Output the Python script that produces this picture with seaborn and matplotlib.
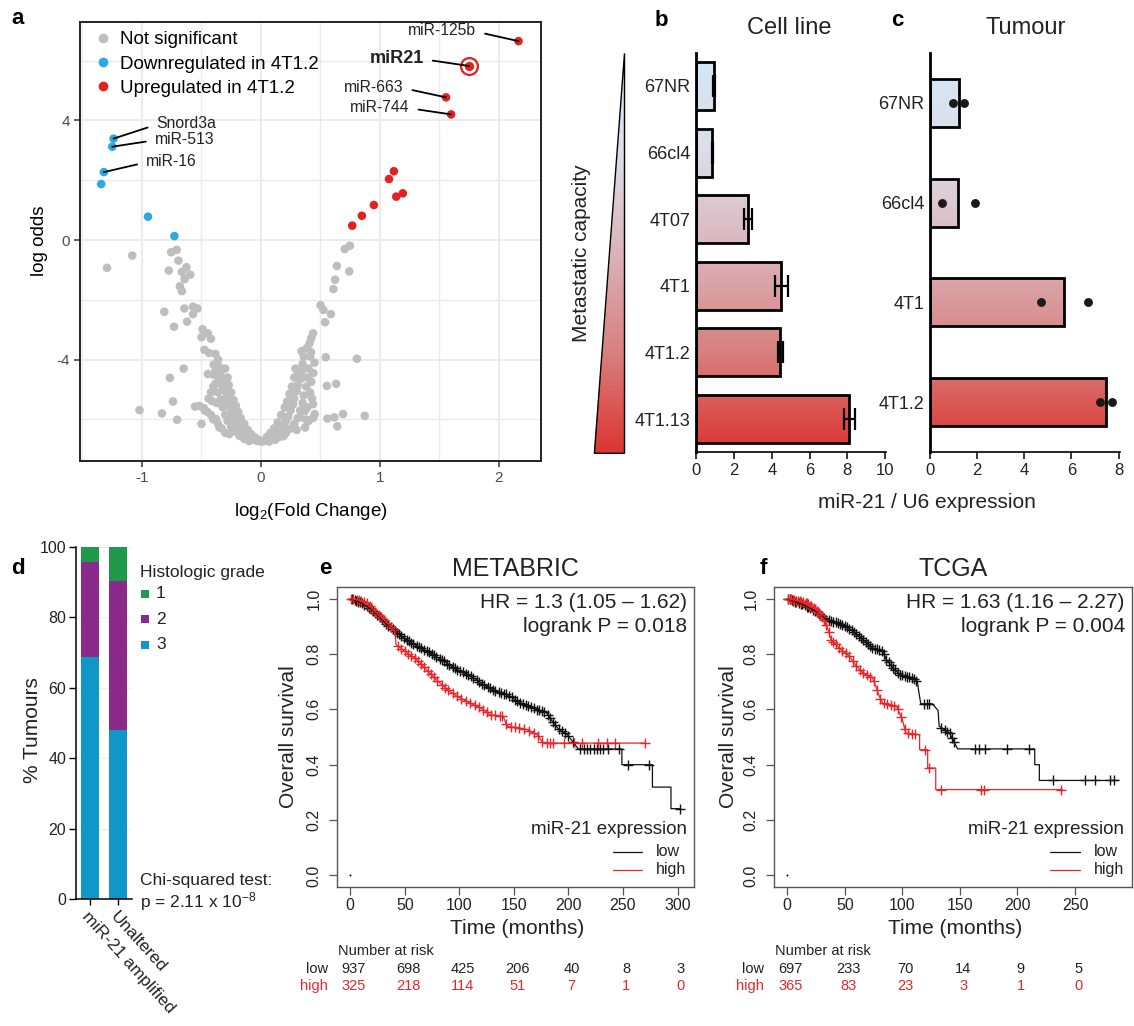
import numpy as np
import pandas as pd
import matplotlib
matplotlib.use("Agg")
import matplotlib.pyplot as plt
import seaborn as sns
from matplotlib.colors import LinearSegmentedColormap
from matplotlib.lines import Line2D
from matplotlib.patches import Polygon, Rectangle
from matplotlib.transforms import blended_transform_factory

# ======================= DATA =======================
# ---- panel a: volcano plot ----
ns_x = [-1.293, -1.081, -0.754, -0.707, 0.704, 0.748, -0.693, -0.626, -0.774, -0.664, -0.594, -0.641,
        -0.681, -0.664, 0.638, 0.742, 0.623, 0.609, -0.812, -0.730, -0.643, -0.571, -0.533, -0.571,
        -0.620, 0.501, 0.525, 0.588, 0.539, 0.438, 0.423, 0.409, -0.490, -0.446, -0.499, -0.420,
        -0.475, -0.435, -0.383, -0.649, -0.765, -0.739, -1.020, -0.832, -0.704, -0.554, -0.499, -0.412,
        -0.446, 0.545, 0.806, 0.554, 0.632, 0.423, 0.438, 0.452, 0.559, 0.617, 0.690, 0.872,
        0.641, 0.371, 0.191, -0.267, -0.348, -0.377, -0.470, 0.328, 0.371, 0.342, 0.386, 0.414,
        0.313, 0.299, 0.342, 0.414, -0.383, -0.397, -0.354, -0.310,
        -0.36, -0.35, -0.34, -0.33, -0.32, -0.30, -0.29, -0.28, -0.26, -0.25, -0.23, -0.21,
        -0.19, -0.17, -0.15, -0.12, -0.09, -0.06, -0.03, 0.00,
        -0.30, -0.28, -0.27, -0.25, -0.23, -0.21, -0.19, -0.17, -0.14, -0.11, -0.08, -0.05, -0.02,
        -0.40, -0.38, -0.36, -0.34, -0.32, -0.30, -0.28, -0.25, -0.22, -0.18, -0.14, -0.10,
        0.36, 0.35, 0.34, 0.33, 0.31, 0.30, 0.28, 0.27, 0.25, 0.23, 0.21, 0.19, 0.16, 0.13,
        0.10, 0.07, 0.04, 0.02,
        0.29, 0.28, 0.26, 0.24, 0.22, 0.20, 0.17, 0.14, 0.11, 0.08, 0.05,
        0.40, 0.39, 0.38, 0.36, 0.35, 0.33, 0.31, 0.28, 0.25, 0.21, 0.16, 0.12, 0.07,
        -0.52, -0.48, -0.45, -0.42, -0.40, -0.36, -0.33, -0.30, 0.38, 0.40, 0.44, 0.30,
        0.42, 0.44, 0.45, 0.43, 0.39, -0.42, -0.44, -0.40, -0.37]
ns_y = [-0.93, -0.52, -0.41, -0.33, -0.30, -0.19, -0.69, -0.91, -1.02, -1.07, -1.16, -1.31,
        -1.55, -1.71, -0.87, -1.05, -1.33, -1.64, -2.40, -2.90, -2.29, -2.23, -2.29, -2.48,
        -2.73, -2.18, -2.34, -2.48, -2.75, -3.12, -3.28, -3.45, -2.98, -3.12, -3.25, -3.30,
        -3.67, -3.78, -3.81, -4.30, -4.61, -5.40, -5.69, -5.80, -6.01, -5.57, -6.15, -5.38,
        -4.48, -3.92, -3.97, -4.88, -4.81, -4.74, -5.49, -5.82, -5.97, -5.93, -5.82, -5.88,
        -6.23, -6.27, -6.56, -6.49, -6.27, -5.99, -5.71, -5.93, -5.71, -3.72, -3.61, -3.89,
        -4.50, -4.99, -4.61, -5.10, -4.39, -4.17, -4.61, -4.72,
        -4.00, -4.25, -4.45, -4.70, -4.90, -5.05, -5.25, -5.45, -5.60, -5.80, -5.95, -6.10,
        -6.25, -6.35, -6.45, -6.55, -6.63, -6.68, -6.72, -6.74,
        -4.30, -4.60, -4.85, -5.10, -5.35, -5.55, -5.75, -5.95, -6.15, -6.35, -6.50, -6.60, -6.68,
        -4.50, -4.80, -5.10, -5.35, -5.60, -5.85, -6.05, -6.25, -6.40, -6.55, -6.65, -6.72,
        -3.90, -4.15, -4.40, -4.65, -4.85, -5.05, -5.30, -5.50, -5.70, -5.90, -6.05, -6.20, -6.35, -6.48,
        -6.58, -6.65, -6.71, -6.73,
        -4.30, -4.60, -4.90, -5.15, -5.40, -5.60, -5.85, -6.10, -6.30, -6.45, -6.58,
        -4.30, -4.60, -4.90, -5.20, -5.45, -5.70, -5.95, -6.15, -6.30, -6.45, -6.58, -6.68, -6.74,
        -5.55, -5.62, -5.75, -5.85, -6.00, -6.15, -6.30, -6.45, -6.00, -6.05, -5.95, -6.35,
        -3.75, -4.45, -4.10, -5.30, -5.60, -5.10, -5.30, -4.90, -5.45]
down_x = [-1.238, -1.249, -1.319, -1.342, -0.949, -0.727]
down_y = [3.39, 3.12, 2.27, 1.87, 0.78, 0.13]
up_x = [2.164, 1.748, 1.555, 1.598, 1.117, 1.076, 1.192, 1.137, 0.949, 0.848, 0.767]
up_y = [6.65, 5.82, 4.77, 4.20, 2.30, 2.04, 1.56, 1.45, 1.17, 0.81, 0.48]
group_names = ["Not significant", "Downregulated in 4T1.2", "Upregulated in 4T1.2"]
# labelled genes: (name, group, index in group)
label_names = ["miR-125b", "miR21", "miR-663", "miR-744", "Snord3a", "miR-513", "miR-16"]
label_group = ["up", "up", "up", "up", "down", "down", "down"]
label_index = [0, 1, 2, 3, 0, 1, 2]

# ---- panel b: cell lines ----
cell_lines = ["67NR", "66cl4", "4T07", "4T1", "4T1.2", "4T1.13"]
cell_mean = [0.93, 0.86, 2.75, 4.50, 4.46, 8.10]
cell_sem = [0.05, 0.05, 0.22, 0.34, 0.15, 0.28]

# ---- panel c: tumours ----
tumour_lines = ["67NR", "66cl4", "4T1", "4T1.2"]
tumour_rep1 = [1.00, 0.53, 4.71, 7.23]
tumour_rep2 = [1.45, 1.91, 6.69, 7.72]

# ---- panel d: histologic grade ----
grade_groups = ["miR-21 amplified", "Unaltered"]
grade1_pct = [4.2, 9.7]
grade2_pct = [27.0, 42.2]
grade3_pct = [68.8, 48.1]

# ---- panel e: METABRIC ----
e_low_t = [0, 10, 20, 34, 49, 64, 75, 86, 98, 110, 122, 134, 144, 156, 171, 180, 184, 190, 199, 205, 209,
           249, 249, 277, 277, 294, 294, 303]
e_low_s = [1.0, .985, .960, .906, .858, .822, .800, .773, .743, .722, .689, .665, .653, .623, .599, .587,
           .563, .533, .508, .478, .457, .457, .40, .40, .319, .319, .241, .241]
e_high_t = [0, 8, 15, 24, 34, 41, 42, 52, 61, 70, 79, 89, 98, 110, 122, 128, 140, 144, 162, 171, 177, 202, 270]
e_high_s = [1.0, .995, .984, .948, .912, .882, .834, .804, .780, .743, .707, .671, .647, .623, .599, .581,
            .575, .539, .527, .509, .478, .478, .478]
e_low_cens = [2, 4, 5, 7, 9, 11, 13, 15, 17, 19, 21, 23, 25, 27, 29, 31, 33, 35, 37, 39, 41, 43, 45, 47, 49,
              52, 54, 56, 58, 61, 63, 65, 68, 70, 72, 75, 77, 79, 82, 84, 86, 89, 91, 94, 96, 98, 101, 103,
              106, 108, 111, 113, 116, 118, 121, 123, 126, 128, 131, 133, 136, 138, 141, 143, 146, 148, 151,
              153, 156, 158, 161, 163, 166, 168, 171, 173, 176, 178, 181, 183, 186, 188, 191, 194, 197, 200,
              204, 211, 214, 217, 220, 223, 226, 229, 232, 236, 246, 255, 274, 302]
e_high_cens = [1, 3, 6, 8, 10, 13, 15, 18, 20, 23, 26, 28, 31, 34, 37, 40, 44, 47, 50, 53, 56, 59, 62, 65,
               68, 71, 74, 77, 80, 84, 87, 90, 94, 98, 102, 106, 110, 114, 118, 122, 125, 129, 133, 137,
               139, 143, 147, 151, 155, 159, 164, 168, 172, 176, 180, 183, 186, 196, 205, 212, 227, 235,
               243, 270]
e_risk_times = [0, 50, 100, 150, 200, 250, 300]
e_risk_low = [937, 698, 425, 206, 40, 8, 3]
e_risk_high = [325, 218, 114, 51, 7, 1, 0]

# ---- panel f: TCGA ----
f_low_t = [0, 14, 25, 34, 43, 51, 57, 66, 74, 83, 86, 92, 98, 109, 113, 114, 116, 126, 131, 132, 141, 144,
           148, 215, 215, 219, 219, 288]
f_low_s = [1.0, .978, .954, .924, .914, .90, .882, .852, .822, .81, .78, .749, .725, .713, .701, .671, .62,
           .62, .596, .539, .514, .49, .457, .457, .40, .40, .343, .343]
f_high_t = [0, 17, 25, 31, 35, 38, 45, 54, 60, 66, 74, 77, 80, 83, 95, 98, 100, 103, 115, 115, 122, 122,
            129, 129, 239]
f_high_s = [1.0, .984, .96, .93, .894, .852, .822, .792, .756, .731, .713, .683, .647, .622, .611, .581,
            .563, .514, .508, .454, .454, .388, .388, .310, .310]
f_low_cens = [1, 2, 4, 5, 7, 8, 10, 12, 13, 15, 17, 18, 20, 22, 24, 26, 28, 30, 32, 34, 36, 38, 40, 42, 44,
              46, 48, 50, 52, 54, 56, 58, 60, 62, 64, 66, 68, 70, 72, 74, 76, 78, 80, 82, 84, 86, 88, 90,
              92, 94, 96, 98, 100, 102, 104, 106, 108, 110, 112, 119, 121, 123, 134, 137, 139, 141, 143,
              145, 163, 167, 172, 191, 210, 231, 259, 267, 280, 284]
f_high_cens = [1, 2, 3, 5, 6, 8, 9, 11, 12, 14, 16, 17, 18, 20, 21, 23, 24, 26, 27, 29, 30, 32, 34, 36, 38,
               40, 42, 45, 48, 51, 54, 57, 60, 63, 66, 69, 72, 75, 78, 81, 84, 87, 90, 93, 96, 99, 102, 105,
               108, 111, 120, 123, 134, 168, 171, 238]
f_risk_times = [0, 50, 100, 150, 200, 250]
f_risk_low = [697, 233, 70, 14, 9, 5]
f_risk_high = [365, 83, 23, 3, 1, 0]

# ======================= STYLE =======================
sns.set_theme(style="white")
plt.rcParams["font.family"] = ["Liberation Sans", "DejaVu Sans"]
plt.rcParams["mathtext.fontset"] = "custom"
plt.rcParams["mathtext.rm"] = "Liberation Sans"
plt.rcParams["mathtext.it"] = "Liberation Sans:italic"
plt.rcParams["mathtext.bf"] = "Liberation Sans:bold"
plt.rcParams["axes.unicode_minus"] = False
plt.rcParams["text.color"] = "black"

W, H = 1134, 1026
fig = plt.figure(figsize=(W / 100, H / 100), dpi=100)
fig.patch.set_facecolor("white")


def rect(x0, y0, x1, y1):
    return [x0 / W, 1 - y1 / H, (x1 - x0) / W, (y1 - y0) / H]


def ftext(x, y, s, **kw):
    kw.setdefault("ha", "center")
    kw.setdefault("va", "center")
    return fig.text(x / W, 1 - y / H, s, **kw)


RED_KM = "#E8262A"
grad_cmap = LinearSegmentedColormap.from_list(
    "met", ["#D3E9F6", "#DDDDEA", "#DBB3B9", "#D8807F", "#DC3530"])

# ======================= PANEL a =======================
axa = fig.add_axes(rect(80, 22, 541, 461))
dfa = pd.DataFrame({
    "lfc": ns_x + down_x + up_x,
    "lod": ns_y + down_y + up_y,
    "grp": [group_names[0]] * len(ns_x) + [group_names[1]] * len(down_x) + [group_names[2]] * len(up_x),
})
pal = {group_names[0]: "#BEBEBE", group_names[1]: "#2BAAE2", group_names[2]: "#E3221F"}
sns.scatterplot(data=dfa, x="lfc", y="lod", hue="grp", palette=pal, s=38, linewidth=0,
                legend=False, ax=axa, zorder=3)
# highlight miR21
hx, hy = [up_x[1]], [up_y[1]]
sns.scatterplot(x=hx, y=hy, s=190, color="#E3221F", linewidth=0, ax=axa, zorder=4, legend=False)
sns.scatterplot(x=hx, y=hy, s=110, color="white", linewidth=0, ax=axa, zorder=5, legend=False)
sns.scatterplot(x=hx, y=hy, s=45, color="#E3221F", linewidth=0, ax=axa, zorder=6, legend=False)

axa.set_xlim(-1.52, 2.353)
axa.set_ylim(-7.39, 7.29)
axa.set_xticks([-1, 0, 1, 2])
axa.set_xticks([-1.5, -0.5, 0.5, 1.5], minor=True)
axa.set_yticks([-4, 0, 4])
axa.set_yticks([-6, -2, 2, 6], minor=True)
axa.grid(which="major", color="#EBEBEB", lw=1.5)
axa.grid(which="minor", color="#EBEBEB", lw=1.0)
axa.set_axisbelow(True)
axa.tick_params(which="major", bottom=True, left=True, length=4, width=1.1, color="#333333",
                labelcolor="#4D4D4D", labelsize=11, pad=3)
axa.tick_params(which="minor", length=0)
for sp in axa.spines.values():
    sp.set_color("#222222")
    sp.set_linewidth(1.4)
axa.set_xlabel("")
axa.set_ylabel("")
ftext(40, 241, "log odds", rotation=90, fontsize=13.5)
ftext(311, 511, r"log$_2$(Fold Change)", fontsize=13.5)

# legend
handles = [Line2D([], [], marker="o", ls="", color=pal[g], markersize=7, markeredgewidth=0) for g in group_names]
axa.legend(handles, group_names, loc="upper left", bbox_to_anchor=(0.0, 1.0), frameon=False,
           fontsize=13.5, handletextpad=0.25, labelspacing=0.38, borderaxespad=0.25, handlelength=1.4,
           borderpad=0.25)

# annotations
label_text_pos = [(1.81, 6.99, "right"), (1.37, 6.07, "right"), (1.20, 5.10, "right"),
                  (1.25, 4.43, "right"), (-0.88, 3.88, "left"), (-0.894, 3.36, "left"),
                  (-0.967, 2.62, "left")]
for name, grp, idx, (tx, ty, ha) in zip(label_names, label_group, label_index, label_text_pos):
    px = up_x[idx] if grp == "up" else down_x[idx]
    py = up_y[idx] if grp == "up" else down_y[idx]
    bold = name == "miR21"
    axa.annotate(name, xy=(px, py), xytext=(tx, ty), ha=ha, va="center",
                 fontsize=13 if bold else 11.3, fontweight="bold" if bold else "normal",
                 color="#222222",
                 arrowprops=dict(arrowstyle="-", color="black", lw=1.3,
                                 relpos=(1, 0.45) if ha == "right" else (0, 0.45),
                                 shrinkA=4, shrinkB=0), zorder=7)
ftext(18, 18, "a", fontsize=16, fontweight="bold")


# ======================= gradient helper =======================
def fill_gradient(ax, n_cat):
    y0, y1 = -0.5, n_cat - 0.5
    for p in list(ax.patches):
        x, w, y, h = p.get_x(), p.get_width(), p.get_y(), p.get_height()
        ya, yb = y, y + h
        va_, vb_ = (ya - y0) / (y1 - y0), (yb - y0) / (y1 - y0)
        grad = np.linspace(va_, vb_, 128)[:, None]
        im = ax.imshow(grad, extent=(x, x + w, yb, ya), origin="upper", cmap=grad_cmap, vmin=0, vmax=1,
                       aspect="auto", zorder=0.9, interpolation="bilinear")
        im.set_clip_path(p)
        p.set_facecolor("none")
        p.set_zorder(2)


def style_bar_axis(ax, xmax, xticks):
    ax.set_xlim(0, xmax)
    ax.set_xticks(xticks)
    ax.set_xlabel("")
    ax.set_ylabel("")
    sns.despine(ax=ax)
    ax.spines["left"].set_linewidth(2.0)
    ax.spines["left"].set_color("black")
    ax.spines["bottom"].set_linewidth(1.2)
    ax.spines["bottom"].set_color("black")
    ax.tick_params(axis="x", bottom=True, length=5, width=1.1, color="black", labelsize=12,
                   labelcolor="#222222", pad=3)
    ax.tick_params(axis="y", left=False, length=0, labelsize=13, labelcolor="#222222", pad=4)


# ======================= PANEL b =======================
axb = fig.add_axes(rect(696.2, 52.7, 886.1, 452.3))
sns.barplot(x=cell_mean, y=cell_lines, orient="h", color="white", edgecolor="black", linewidth=2,
            width=0.72, errorbar=None, ax=axb)
fill_gradient(axb, len(cell_lines))
axb.errorbar(cell_mean, np.arange(len(cell_lines)), xerr=cell_sem, fmt="none", ecolor="black",
             elinewidth=1.6, capsize=8, capthick=1.6, zorder=3)
axb.set_ylim(len(cell_lines) - 0.5, -0.5)
style_bar_axis(axb, 10.05, [0, 2, 4, 6, 8, 10])

# metastatic capacity triangle
axt = fig.add_axes(rect(594.4, 53.3, 624.5, 453.3))
axt.set_xlim(0, 1)
axt.set_ylim(0, 1)
axt.axis("off")
tri = Polygon([[0, 0], [1, 0], [1, 1]], closed=True, facecolor="none", edgecolor="black", lw=1.0,
              clip_on=False, zorder=2)
axt.add_patch(tri)
imt = axt.imshow(np.linspace(0, 1, 256)[:, None], extent=(0, 1, 0, 1), origin="upper", cmap=grad_cmap,
                 vmin=0, vmax=1, aspect="auto", zorder=1, interpolation="bilinear")
imt.set_clip_path(tri)
ftext(581.7, 253, "Metastatic capacity", rotation=90, fontsize=15, color="#222222")
ftext(789, 28, "Cell line", fontsize=17, color="#222222")
ftext(661, 20, "b", fontsize=16, fontweight="bold")

# ======================= PANEL c =======================
axc = fig.add_axes(rect(929.6, 52.7, 1119.8, 452.3))
dfc = pd.DataFrame({"line": tumour_lines * 2, "val": tumour_rep1 + tumour_rep2})
sns.barplot(data=dfc, x="val", y="line", order=tumour_lines, orient="h", color="white", edgecolor="black",
            linewidth=2, width=0.48, errorbar=None, ax=axc)
fill_gradient(axc, len(tumour_lines))
sns.stripplot(data=dfc, x="val", y="line", order=tumour_lines, orient="h", jitter=False, color="#1A1A1A",
              size=6.4, linewidth=0, ax=axc, zorder=4)
axc.set_ylim(len(tumour_lines) - 0.5, -0.5)
style_bar_axis(axc, 8.05, [0, 2, 4, 6, 8])
ftext(1025.6, 28, "Tumour", fontsize=17, color="#222222")
ftext(897, 20, "c", fontsize=16, fontweight="bold")
ftext(926.7, 503, "miR-21 / U6 expression", fontsize=15, color="#222222")

# ======================= PANEL d =======================
axd = fig.add_axes(rect(76, 546.7, 132.3, 899.3))
g3 = np.array(grade3_pct)
g2 = g3 + np.array(grade2_pct)
g1 = g2 + np.array(grade1_pct)
COL_G1, COL_G2, COL_G3 = "#1F9A4A", "#8C2A8C", "#1196C8"
sns.barplot(x=grade_groups, y=g1, color=COL_G1, saturation=1, width=0.64, linewidth=0, ax=axd)
sns.barplot(x=grade_groups, y=g2, color=COL_G2, saturation=1, width=0.64, linewidth=0, ax=axd)
sns.barplot(x=grade_groups, y=g3, color=COL_G3, saturation=1, width=0.64, linewidth=0, ax=axd)
axd.set_xlim(-0.5, 1.5)
axd.set_ylim(0, 100)
axd.set_yticks([0, 20, 40, 60, 80, 100])
axd.yaxis.grid(True, color="#F0F0F0", lw=1)
axd.set_axisbelow(True)
sns.despine(ax=axd)
axd.spines["left"].set_color("black")
axd.spines["bottom"].set_color("black")
axd.spines["left"].set_linewidth(1.1)
axd.spines["bottom"].set_linewidth(1.1)
axd.tick_params(axis="y", left=True, length=5, width=1, color="black", labelsize=11.5, pad=2,
                labelcolor="#222222")
axd.tick_params(axis="x", bottom=True, length=4, width=1, color="black", labelsize=12.5, pad=3,
                labelcolor="#222222")
axd.set_xlabel("")
axd.set_ylabel("")
for lab in axd.get_xticklabels():
    lab.set_rotation(-48)
    lab.set_ha("left")
    lab.set_va("top")
    lab.set_rotation_mode("anchor")
ftext(32, 730, "% Tumours", rotation=90, fontsize=15, color="#222222")
ftext(140, 573, "Histologic grade", ha="left", fontsize=12.5, color="#222222")
for yy, col, lab in zip([593.5, 619, 644.5], [COL_G1, COL_G2, COL_G3], ["1", "2", "3"]):
    fig.patches.append(Rectangle(((141) / W, 1 - (yy + 4) / H), 8 / W, 8 / H, transform=fig.transFigure,
                                 facecolor=col, edgecolor="none"))
    ftext(156, yy, lab, ha="left", fontsize=12.5, color="#222222")
ftext(140, 880, "Chi-squared test:", ha="left", fontsize=12.5, color="#222222")
ftext(140, 902, r"p = 2.11 x 10$^{-8}$", ha="left", fontsize=12.5, color="#222222")
ftext(18, 568, "d", fontsize=16, fontweight="bold")


# ======================= PANELS e, f =======================
def km_panel(ax, low_t, low_s, low_c, high_t, high_s, high_c, xlim, xticks, title, hr, pval,
             risk_t, risk_low, risk_high, ylab_x, letter, letter_x):
    for t, s, c, col in [(low_t, low_s, low_c, "#111111"), (high_t, high_s, high_c, RED_KM)]:
        sns.lineplot(x=t, y=s, estimator=None, sort=False, color=col, lw=0.9, ax=ax)
        cy = np.interp(c, t, s)
        sns.scatterplot(x=c, y=cy, marker="+", s=50, linewidth=1.0, color=col, ax=ax, legend=False)
    sns.scatterplot(x=[0], y=[0], s=2, color="black", linewidth=0, ax=ax, legend=False)
    ax.set_xlim(*xlim)
    ax.set_ylim(-0.042, 1.042)
    ax.set_xticks(xticks)
    ax.set_yticks([0, 0.2, 0.4, 0.6, 0.8, 1.0])
    ax.set_yticklabels(["0.0", "0.2", "0.4", "0.6", "0.8", "1.0"])
    ax.set_xlabel("")
    ax.set_ylabel("")
    for sp in ax.spines.values():
        sp.set_visible(True)
        sp.set_color("#555555")
        sp.set_linewidth(1.0)
    ax.tick_params(axis="both", bottom=True, left=True, length=6, width=0.9, color="#555555",
                   labelsize=11.5, labelcolor="#222222", direction="out")
    ax.tick_params(axis="x", pad=2.2)
    ax.tick_params(axis="y", pad=5)
    for lab in ax.get_yticklabels():
        lab.set_rotation(90)
        lab.set_va("center")
    ax.text(0.98, 0.95, hr, transform=ax.transAxes, ha="right", va="center", fontsize=15, color="#222222")
    ax.text(0.98, 0.867, pval, transform=ax.transAxes, ha="right", va="center", fontsize=15,
            color="#222222")
    ax.text(0.979, 0.193, "miR-21 expression", transform=ax.transAxes, ha="right", va="center",
            fontsize=13.5, color="#222222")
    ax.plot([0.772, 0.854], [0.117, 0.117], transform=ax.transAxes, color="#111111", lw=0.9)
    ax.plot([0.772, 0.854], [0.057, 0.057], transform=ax.transAxes, color=RED_KM, lw=0.9)
    ax.text(0.894, 0.117, "low", transform=ax.transAxes, ha="left", va="center", fontsize=11.5,
            color="#222222")
    ax.text(0.894, 0.057, "high", transform=ax.transAxes, ha="left", va="center", fontsize=11.5,
            color="#222222")
    bb = ax.get_position()
    cx = (bb.x0 + bb.x1) / 2 * W
    ftext(cx, 569, title, fontsize=18, color="#222222")
    ftext(cx + 2, 929, "Time (months)", fontsize=15, color="#222222")
    ftext(ylab_x, 737, "Overall survival", rotation=90, fontsize=15, color="#222222")
    ftext(letter_x, 569, letter, fontsize=16, fontweight="bold")
    trans = blended_transform_factory(ax.transData, fig.transFigure)
    ax.text(xlim[0] + 0.6, 1 - 951 / H, "Number at risk", transform=trans, ha="left", va="center",
            fontsize=10.5, color="#222222", clip_on=False)
    ax.text(xlim[0] - 8.5, 1 - 969 / H, "low", transform=trans, ha="right", va="center",
            fontsize=10.5, color="#222222", clip_on=False)
    ax.text(xlim[0] - 8.5, 1 - 986 / H, "high", transform=trans, ha="right", va="center",
            fontsize=10.5, color=RED_KM, clip_on=False)
    for t, nl, nh in zip(risk_t, risk_low, risk_high):
        ax.text(t + 3, 1 - 969 / H, str(nl), transform=trans, ha="center", va="center", fontsize=10.5,
                color="#222222", clip_on=False)
        ax.text(t + 3, 1 - 986 / H, str(nh), transform=trans, ha="center", va="center", fontsize=10.5,
                color=RED_KM, clip_on=False)


axe = fig.add_axes(rect(337, 587, 694, 887))
km_panel(axe, e_low_t, e_low_s, e_low_cens, e_high_t, e_high_s, e_high_cens, (-12.1, 315.1),
         [0, 50, 100, 150, 200, 250, 300], "METABRIC", "HR = 1.3 (1.05 \u2013 1.62)",
         "logrank P = 0.018", e_risk_times, e_risk_low, e_risk_high, 288, "e", 325)

axf = fig.add_axes(rect(774, 587, 1132, 887))
km_panel(axf, f_low_t, f_low_s, f_low_cens, f_high_t, f_high_s, f_high_cens, (-11.5, 299.5),
         [0, 50, 100, 150, 200, 250], "TCGA", "HR = 1.63 (1.16 \u2013 2.27)",
         "logrank P = 0.004", f_risk_times, f_risk_low, f_risk_high, 728, "f", 763)

fig.savefig("out.png", dpi=100, facecolor="white")
